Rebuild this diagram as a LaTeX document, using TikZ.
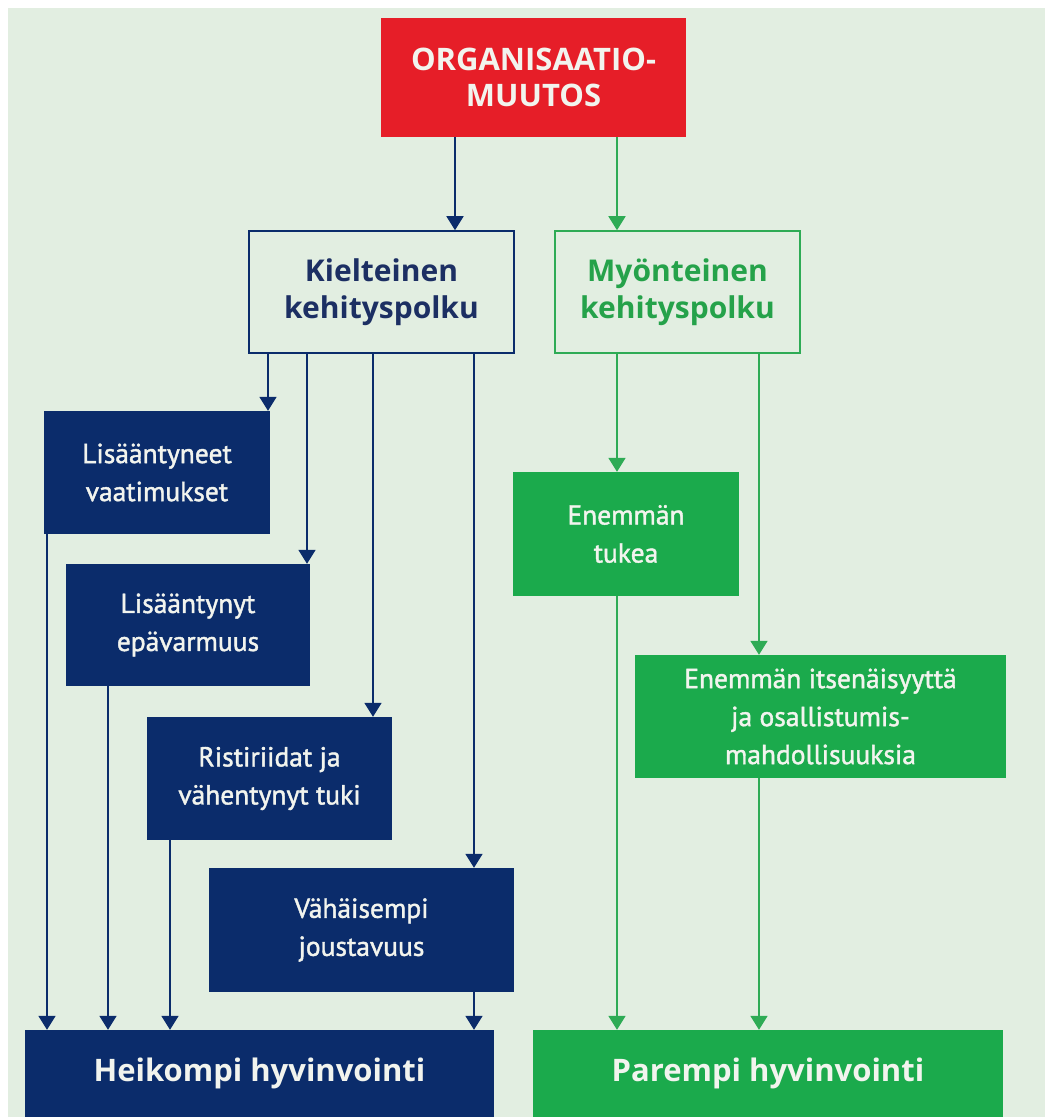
\documentclass[tikz,border=0pt]{standalone}
\usepackage{fontspec}
\setmainfont{PT Sans}
\newfontfamily\medf[FakeBold=1.5]{PT Sans}
\newfontfamily\boldf{Open Sans}[BoldFont={* Bold}]
\usetikzlibrary{arrows.meta}
\definecolor{bg}{HTML}{E2EEE1}
\definecolor{navy}{HTML}{0B2C6B}
\definecolor{redbox}{HTML}{E61E28}
\definecolor{grn}{HTML}{1BAA4C}
\definecolor{grnline}{HTML}{2EAB55}
\definecolor{navytext}{HTML}{1C2F63}
\definecolor{grntext}{HTML}{25A24A}
\definecolor{boxtext}{HTML}{F2F4EE}
\begin{document}
\begin{tikzpicture}[x=1pt,y=-1pt,
  every node/.style={inner sep=0pt, align=center},
  navybox/.style={fill=navy, text=boxtext, font=\medf\fontsize{27.5}{38}\selectfont},
  grnbox/.style={fill=grn, text=boxtext, font=\medf\fontsize{27.5}{38}\selectfont},
  bigbox/.style={font=\boldf\fontsize{31}{36}\selectfont\bfseries},
  pathbox/.style={line width=1.6pt, fill=bg, font=\boldf\fontsize{30}{37}\selectfont\bfseries},
  barr/.style={draw=navy, line width=1.8pt, -{Triangle[width=17pt,length=14pt]}, navy},
  garr/.style={draw=grnline, line width=1.8pt, -{Triangle[width=17pt,length=14pt]}, grnline}
]
\useasboundingbox (0,0) rectangle (1045,1117);
\fill[white] (0,0) rectangle (1045,1117);
\fill[bg] (8,8) rectangle (1045,1117);

% nodes
\node[fill=redbox, text=boxtext, bigbox, minimum width=305pt, minimum height=119pt] (org) at (533.5,77.5) {ORGANISAATIO-\\MUUTOS};
\node[pathbox, draw=navy, text=navytext, minimum width=265pt, minimum height=122pt] (kiel) at (381.5,292) {Kielteinen\\kehityspolku};
\node[pathbox, draw=grnline, text=grntext, minimum width=245pt, minimum height=122pt] (myon) at (677.5,292) {Myönteinen\\kehityspolku};

\node[navybox, minimum width=226pt, minimum height=123pt] (lis1) at (157,472.5) {Lisääntyneet\\vaatimukset};
\node[navybox, minimum width=244pt, minimum height=122pt] (lis2) at (188,625) {Lisääntynyt\\epävarmuus};
\node[navybox, minimum width=245pt, minimum height=123pt] (rist) at (269.5,778.5) {Ristiriidat ja\\vähentynyt tuki};
\node[navybox, minimum width=305pt, minimum height=124pt] (vah) at (361.5,930) {Vähäisempi\\joustavuus};
\node[fill=navy, text=boxtext, bigbox, minimum width=469pt, minimum height=87pt] (heik) at (259.5,1073.5) {Heikompi hyvinvointi};

\node[grnbox, minimum width=226pt, minimum height=124pt] (enem1) at (626,534) {Enemmän\\tukea};
\node[grnbox, minimum width=371pt, minimum height=123pt] (enem2) at (820.5,716.5) {Enemmän itsenäisyyttä\\ja osallistumis-\\mahdollisuuksia};
\node[fill=grn, text=boxtext, bigbox, minimum width=470pt, minimum height=87pt] (par) at (768,1073.5) {Parempi hyvinvointi};

% connectors
\draw[barr] (org.south -| 455,0) -- (kiel.north -| 455,0);
\draw[garr] (org.south -| 617,0) -- (myon.north -| 617,0);

\draw[barr] (kiel.south -| 268,0) -- (lis1.north -| 268,0);
\draw[barr] (kiel.south -| 307,0) -- (lis2.north -| 307,0);
\draw[barr] (kiel.south -| 373,0) -- (rist.north -| 373,0);
\draw[barr] (kiel.south -| 474,0) -- (vah.north -| 474,0);

\draw[barr] (lis1.south -| 47,0) -- (heik.north -| 47,0);
\draw[barr] (lis2.south -| 108,0) -- (heik.north -| 108,0);
\draw[barr] (rist.south -| 170,0) -- (heik.north -| 170,0);
\draw[barr] (vah.south -| 474,0) -- (heik.north -| 474,0);

\draw[garr] (myon.south -| 617,0) -- (enem1.north -| 617,0);
\draw[garr] (myon.south -| 759,0) -- (enem2.north -| 759,0);
\draw[garr] (enem1.south -| 617,0) -- (par.north -| 617,0);
\draw[garr] (enem2.south -| 759,0) -- (par.north -| 759,0);
\end{tikzpicture}
\end{document}
